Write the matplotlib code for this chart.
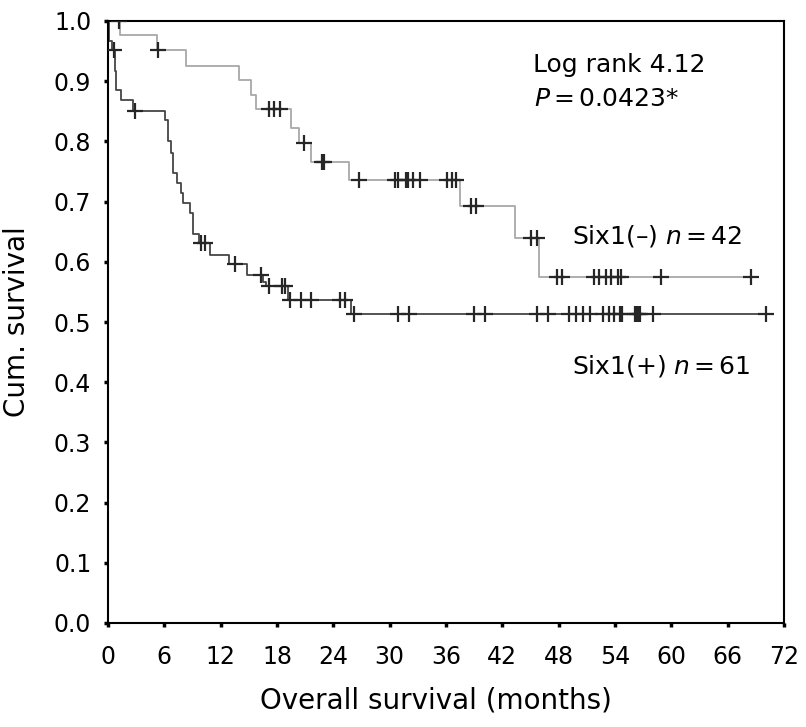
import numpy as np
import matplotlib
matplotlib.use("Agg")
import matplotlib.pyplot as plt

plt.rcParams['font.family'] = ['DejaVu Sans']
plt.rcParams['mathtext.fontset'] = 'dejavusans'

# Six1(-) group, n = 42 (light grey curve)
neg_times = [0, 1.3, 5.2, 8.3, 14.0, 15.2, 15.8, 19.5, 20.3, 21.6, 25.7, 37.5, 43.3, 45.9]
neg_surv = [1.0, 0.977, 0.952, 0.925, 0.902, 0.877, 0.853, 0.823, 0.797, 0.766,
            0.736, 0.692, 0.639, 0.575]
neg_censored = [1.2, 5.3, 17.2, 17.7, 18.3, 20.9, 22.8, 23.0, 26.7, 30.6, 30.9, 31.7,
                31.9, 32.5, 33.2, 36.1, 36.6, 37.1, 38.7, 39.2, 45.1, 45.7, 47.8, 48.4,
                51.8, 52.3, 53.0, 53.6, 54.3, 54.6, 58.9, 68.5]

# Six1(+) group, n = 61 (dark curve)
pos_times = [0, 0.1, 0.4, 0.7, 0.9, 1.4, 2.7, 6.1, 6.4, 6.7, 6.9, 7.4, 7.8, 8.0, 8.7,
             9.0, 9.7, 10.9, 12.9, 14.8, 16.5, 16.8, 19.2, 25.9]
pos_surv = [1.0, 0.967, 0.951, 0.917, 0.885, 0.869, 0.851, 0.835, 0.800, 0.780, 0.747,
            0.731, 0.715, 0.698, 0.681, 0.646, 0.632, 0.611, 0.597, 0.578, 0.567, 0.560,
            0.537, 0.514]
pos_censored = [0.6, 2.9, 9.9, 10.3, 13.5, 16.3, 17.2, 18.5, 18.9, 19.4, 20.6, 21.6, 24.7,
                25.2, 26.2, 30.9, 32.1, 39.0, 40.2, 45.7, 46.9, 49.1, 49.8, 50.6, 51.3,
                52.7, 53.4, 53.9, 54.5, 54.7, 56.1, 56.3, 56.5, 56.7, 58.0, 70.1]

xticks = list(range(0, 73, 6))
yticks = [round(0.1 * i, 1) for i in range(11)]


def km_curve(ax, times, surv, censored, color):
    t = list(times) + [max(censored)]
    s = list(surv) + [surv[-1]]
    ax.step(t, s, where='post', color=color, lw=1.3, zorder=2)
    idx = np.searchsorted(times, censored, side='right') - 1
    cy = np.array(surv)[idx]
    ax.plot(censored, cy, ls='none', marker='+', ms=11, mew=1.6,
            color='#262626', zorder=3)


fig = plt.figure(figsize=(8.06, 7.27), dpi=100)
ax = fig.add_axes([108 / 806, 1 - 623 / 727, 676 / 806, 602 / 727])

km_curve(ax, pos_times, pos_surv, pos_censored, '#454545')
km_curve(ax, neg_times, neg_surv, neg_censored, '#a8a8a8')

ax.set_xlim(0, 72)
ax.set_ylim(0, 1.0)
ax.set_xticks(xticks)
ax.set_yticks(yticks)
ax.set_yticklabels([f"{v:.1f}" for v in yticks])
ax.tick_params(axis='x', direction='out', length=3, width=2.5, labelsize=17, pad=13)
ax.tick_params(axis='y', direction='out', length=3, width=2.5, labelsize=17, pad=9)
for sp in ax.spines.values():
    sp.set_linewidth(1.5)

ax.set_xlabel("Overall survival (months)", fontsize=20)
ax.set_ylabel("Cum. survival", fontsize=20, labelpad=16)
ax.xaxis.set_label_coords(0.485, -0.105)

ax.text(45.3, 0.915, "Log rank 4.12", fontsize=18)
ax.text(45.4, 0.858, r"$P\,$=$\,$0.0423*", fontsize=18)
ax.text(49.4, 0.631, r"Six1(–) $n\,$=$\,$42", fontsize=18)
ax.text(49.4, 0.415, r"Six1(+) $n\,$=$\,$61", fontsize=18)

fig.savefig("out.png", dpi=100)
